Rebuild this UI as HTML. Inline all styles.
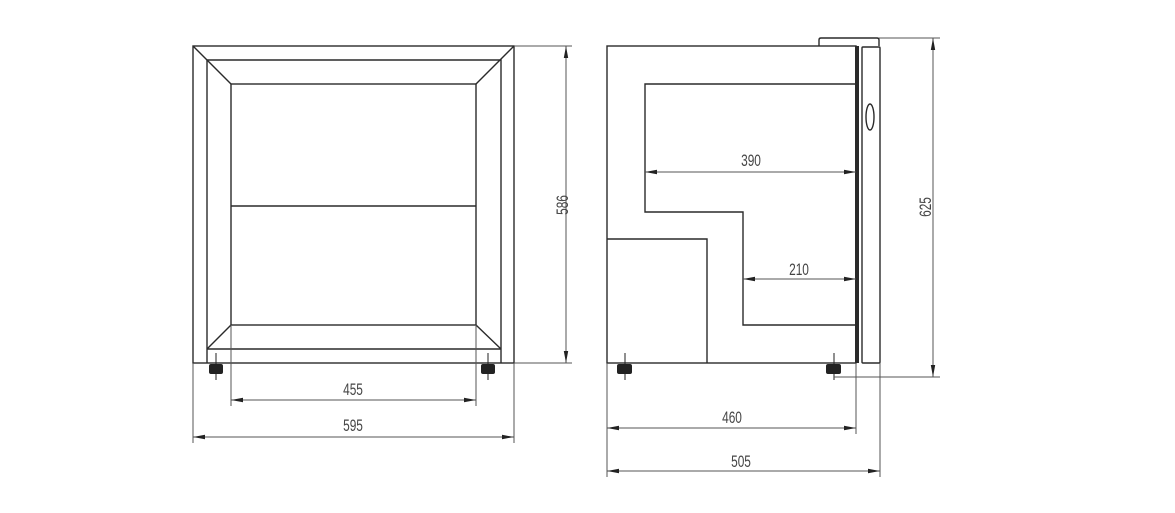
<!DOCTYPE html>
<html><head><meta charset="utf-8"><style>
html,body{margin:0;padding:0;background:#fff;}
svg{display:block;}
text{font-family:"Liberation Sans",sans-serif;font-size:17px;fill:#444;}
</style></head><body>
<svg width="1175" height="513" viewBox="0 0 1175 513">
<defs>
<marker id="a" viewBox="0 0 12 6" refX="12" refY="3" markerWidth="12" markerHeight="6" orient="auto-start-reverse" markerUnits="userSpaceOnUse"><path d="M0,0.8 L12,3 L0,5.2Z" fill="#222"/></marker>
</defs>
<g stroke="#2a2a2a" stroke-width="1.4" fill="none">
<rect x="193" y="46" width="321" height="317"/>
<polyline points="207,363 207,60 501,60 501,363"/>
<rect x="231" y="84" width="245" height="241"/>
<line x1="231" y1="206" x2="476" y2="206"/>
<line x1="207" y1="349" x2="501" y2="349"/>
<line x1="193" y1="46" x2="231" y2="84"/>
<line x1="514" y1="46" x2="476" y2="84"/>
<line x1="231" y1="325" x2="207" y2="349"/>
<line x1="476" y1="325" x2="501" y2="349"/>
<rect x="607" y="46" width="249" height="317"/>
<polyline points="856,84 645,84 645,212 743,212 743,325 856,325"/>
<polyline points="607,239 707,239 707,363"/>
<rect x="862" y="47" width="18" height="316" rx="1"/>
<path d="M819,46 L819,40 Q819,38 821,38 L877,38 Q879,38 879,40 L879,46"/>
<ellipse cx="870" cy="117" rx="4" ry="13"/>
</g>
<rect x="855" y="46" width="4" height="317" fill="#2a2a2a"/>
<g fill="#222">
<rect x="209" y="364" width="14" height="10" rx="2"/>
<rect x="481" y="364" width="14" height="10" rx="2"/>
<rect x="617" y="364" width="15" height="10" rx="2"/>
<rect x="826" y="364" width="15" height="10" rx="2"/>
</g>
<g stroke="#222" stroke-width="1">
<line x1="216" y1="353" x2="216" y2="380"/><line x1="488" y1="353" x2="488" y2="380"/>
<line x1="625" y1="353" x2="625" y2="380"/><line x1="834" y1="353" x2="834" y2="380"/>
</g>
<g stroke="#555" stroke-width="1" fill="none">
<line x1="514" y1="46" x2="572" y2="46"/><line x1="514" y1="363" x2="572" y2="363"/>
<line x1="566" y1="46" x2="566" y2="363" marker-start="url(#a)" marker-end="url(#a)"/>
<line x1="231" y1="325" x2="231" y2="406"/><line x1="476" y1="325" x2="476" y2="406"/>
<line x1="231" y1="400" x2="476" y2="400" marker-start="url(#a)" marker-end="url(#a)"/>
<line x1="193" y1="363" x2="193" y2="443"/><line x1="514" y1="363" x2="514" y2="443"/>
<line x1="193" y1="437" x2="514" y2="437" marker-start="url(#a)" marker-end="url(#a)"/>
<line x1="645" y1="172" x2="856" y2="172" marker-start="url(#a)" marker-end="url(#a)"/>
<line x1="743" y1="279" x2="856" y2="279" marker-start="url(#a)" marker-end="url(#a)"/>
<line x1="879" y1="38" x2="940" y2="38"/><line x1="834" y1="377" x2="940" y2="377"/>
<line x1="933" y1="38" x2="933" y2="377" marker-start="url(#a)" marker-end="url(#a)"/>
<line x1="607" y1="363" x2="607" y2="477"/><line x1="856" y1="363" x2="856" y2="434"/><line x1="880" y1="363" x2="880" y2="477"/>
<line x1="607" y1="428" x2="856" y2="428" marker-start="url(#a)" marker-end="url(#a)"/>
<line x1="607" y1="471" x2="880" y2="471" marker-start="url(#a)" marker-end="url(#a)"/>
</g>
<g text-anchor="middle">
<text transform="translate(353,395) scale(0.7,1)">455</text>
<text transform="translate(353,431) scale(0.7,1)">595</text>
<text transform="translate(568,205) rotate(-90) scale(0.7,1)">586</text>
<text transform="translate(751,166) scale(0.7,1)">390</text>
<text transform="translate(799,275) scale(0.7,1)">210</text>
<text transform="translate(931,207) rotate(-90) scale(0.7,1)">625</text>
<text transform="translate(732,423) scale(0.7,1)">460</text>
<text transform="translate(741,467) scale(0.7,1)">505</text>
</g>
</svg>
</body></html>
